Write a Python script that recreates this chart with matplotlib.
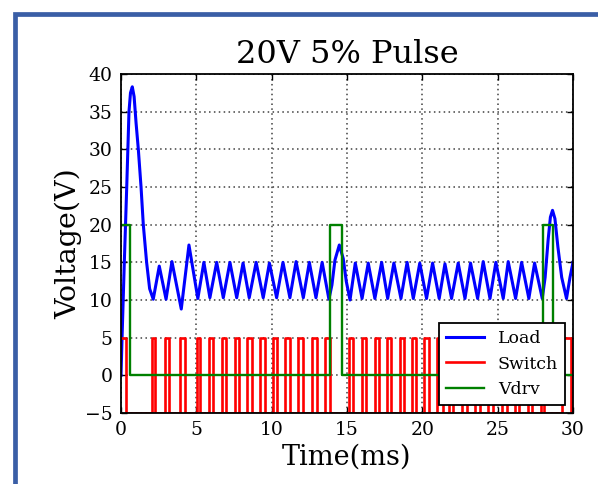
import matplotlib
matplotlib.use("Agg")
import matplotlib.pyplot as plt
from matplotlib.patches import Rectangle

# ---- data ----
load_t = [0.0, 0.07, 0.22, 0.38, 0.53, 0.63, 0.75, 0.87, 1.0, 1.15, 1.33, 1.48, 1.7, 1.9, 2.14,
          2.54, 2.99, 3.38, 4.0, 4.51, 5.1, 5.5,
          5.9, 6.35, 6.79, 7.23, 7.68, 8.1, 8.51, 8.97, 9.44, 9.85, 10.33, 10.75, 11.21, 11.62,
          12.1, 12.5, 12.94, 13.35, 13.8,
          14.0, 14.2, 14.49, 14.75, 14.95, 15.2,
          15.55, 16.0, 16.41, 16.85, 17.3, 17.7, 18.11, 18.58, 18.99, 19.4, 19.83, 20.28, 20.68,
          21.12, 21.5, 21.94, 22.38, 22.83, 23.2, 23.67, 24.04, 24.49, 24.88, 25.37, 25.7,
          26.19, 26.59, 27.07, 27.45, 27.96,
          28.15, 28.35, 28.5, 28.64, 28.8, 29.0, 29.25, 29.57, 29.8, 30.0]
load_v = [0.0, 5.0, 15.0, 25.0, 35.0, 37.5, 38.3, 37.0, 33.5, 30.0, 25.0, 20.0, 15.0, 11.5, 10.1,
          14.5, 10.1, 15.1, 8.8, 17.3, 10.2, 15.0,
          10.3, 15.0, 10.3, 15.0, 10.3, 14.9, 10.3, 15.0, 10.3, 14.9, 10.3, 15.0, 10.3, 15.1,
          10.3, 15.0, 10.3, 15.0, 10.1,
          12.0, 15.3, 17.3, 15.5, 12.5, 10.0,
          14.9, 10.2, 14.9, 10.2, 15.0, 10.2, 14.9, 10.2, 15.0, 10.2, 14.9, 10.2, 14.9,
          10.2, 14.8, 10.2, 14.9, 10.2, 14.9, 10.2, 15.1, 10.2, 15.0, 10.2, 15.1,
          10.2, 15.0, 10.2, 14.9, 10.2,
          13.0, 18.0, 21.0, 21.9, 20.8, 17.0, 13.0, 10.2, 13.0, 15.0]

switch_on = [0.0, 2.05, 2.93, 3.93, 5.02, 5.85, 6.70, 7.57, 8.38, 9.24, 10.08, 10.90, 11.76,
             12.68, 13.56, 15.15, 15.99, 16.86, 17.64, 18.52, 19.32, 20.12, 21.00, 21.76,
             22.64, 23.50, 24.36, 25.28, 26.15, 27.00, 27.88, 29.30]
switch_off = [0.30, 2.27, 3.19, 4.22, 5.26, 6.10, 6.97, 7.84, 8.67, 9.55, 10.36, 11.20, 12.08,
              12.99, 13.87, 15.42, 16.25, 17.14, 17.92, 18.80, 19.60, 20.42, 21.35, 22.02,
              22.94, 23.80, 24.70, 25.60, 26.42, 27.30, 28.10, 29.90]
switch_high, switch_low = 5.0, -5.0

vdrv_t = [0.0, 0.62, 13.90, 14.65, 28.00, 28.70, 30.0]
vdrv_v = [20.0, 0.0, 20.0, 0.0, 20.0, 0.0, 0.0]

title = "20V 5% Pulse"
xlabel = "Time(ms)"
ylabel = "Voltage(V)"
xticks = [0, 5, 10, 15, 20, 25, 30]
yticks = [-5, 0, 5, 10, 15, 20, 25, 30, 35, 40]

# ---- build switch step series from on/off times ----
sw_t, sw_v = [], []
for a, b in zip(switch_on, switch_off):
    sw_t += [a, b]
    sw_v += [switch_high, switch_low]
sw_t.append(30.0)
sw_v.append(switch_low)

plt.rcParams['font.family'] = ['DejaVu Serif']
plt.rcParams['mathtext.fontset'] = 'dejavuserif'

fig = plt.figure(figsize=(5.98, 4.84), dpi=100)
fig.patch.set_facecolor('white')
ax = fig.add_axes([121/598, (484-413)/484, (573-121)/598, (413-74)/484])

ax.plot(load_t, load_v, color='#0000ff', lw=2.2, label='Load', solid_joinstyle='round')
ax.plot(sw_t, sw_v, color='#ff0000', lw=1.9, label='Switch', drawstyle='steps-post')
ax.plot(vdrv_t, vdrv_v, color='#008000', lw=1.7, label='Vdrv', drawstyle='steps-post')

ax.set_xlim(0, 30)
ax.set_ylim(-5, 40)
ax.set_xticks(xticks)
ax.set_yticks(yticks)
ax.grid(True, color='0.25', linestyle=(0, (1, 2.2)), lw=1.1)
ax.tick_params(direction='in', top=True, right=True, length=4, width=1, labelsize=13.5, pad=6)
for s in ax.spines.values():
    s.set_linewidth(1.3)
    s.set_zorder(3)

ax.set_title(title, fontsize=23, pad=8)
ax.set_xlabel(xlabel, fontsize=19.5, labelpad=3)
ax.set_ylabel(ylabel, fontsize=20.5, labelpad=2)

leg = ax.legend(loc='lower right', fontsize=12.5, fancybox=False, framealpha=1,
                edgecolor='black', borderaxespad=0.45, handlelength=2.2)
leg.get_frame().set_linewidth(1.3)

# blue outer frame of the screenshot
fig.patches.append(Rectangle((15/598, -0.1), 1.2, (484-14.5)/484 + 0.1,
                             transform=fig.transFigure, fill=False,
                             edgecolor='#3a5ea6', lw=3.4))

fig.savefig('out.png', dpi=100, facecolor='white')
